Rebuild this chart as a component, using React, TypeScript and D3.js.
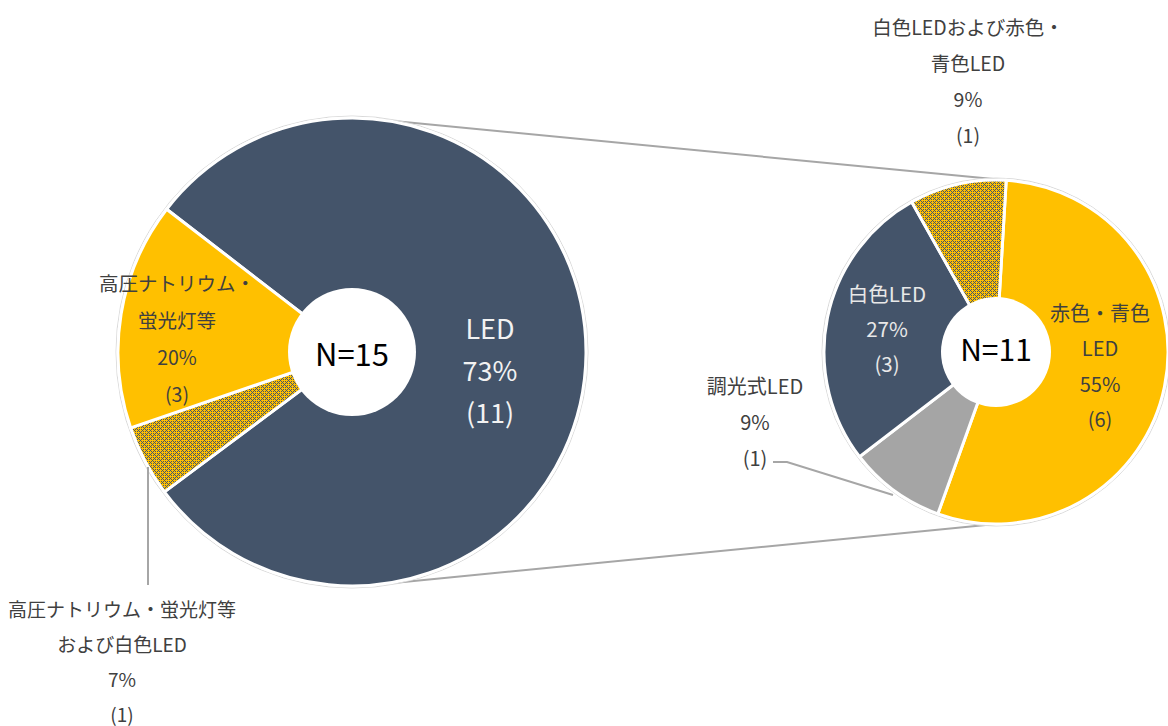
import React from 'react';
import * as d3 from 'd3';

// left pie (all lamps)
const leftNames = ['LED', '高圧ナトリウム・蛍光灯等および白色LED', '高圧ナトリウム・蛍光灯等'];
const leftCounts = [11, 1, 3];
const leftPercents = ['73%', '7%', '20%'];
// slice sizes as drawn in the picture (degrees)
const leftDrawn = [285.7, 17.8, 56.5];

// right pie (LED breakdown)
const rightNames = ['赤色・青色LED', '調光式LED', '白色LED', '白色LEDおよび赤色・青色LED'];
const rightCounts = [6, 1, 3, 1];
const rightPercents = ['55%', '9%', '27%', '9%'];

const leftTotal = 15;
const rightTotal = 11;

const NAVY = '#44546a';
const GOLD = '#ffc000';
const GREY = '#a5a5a5';
const LINE = '#a6a6a6';
const TXT = '#404040';
const FONT = '"Noto Sans CJK JP", "Noto Sans", sans-serif';

const rad = (deg: number) => (deg * Math.PI) / 180;

// label lines per slice (split where the original wraps)
const leftLabelLines = [
  [leftNames[0]],
  ['高圧ナトリウム・蛍光灯等', 'および白色LED'],
  ['高圧ナトリウム・', '蛍光灯等'],
];
const rightLabelLines = [
  ['赤色・青色', 'LED'],
  [rightNames[1]],
  [rightNames[2]],
  ['白色LEDおよび赤色・', '青色LED'],
];

function Label({ x, y, lines, color, size, gap }: any) {
  return (
    <text x={x} y={y} textAnchor="middle" fill={color} fontSize={size} fontFamily={FONT}>
      {lines.map((l: string, i: number) => (
        <tspan key={i} x={x} y={y + i * gap} dominantBaseline="central">{l}</tspan>
      ))}
    </text>
  );
}

function dotPattern() {
  const inPlus = (i: number, j: number, ci: number, cj: number) => {
    const di = Math.min(Math.abs(i - ci), 8 - Math.abs(i - ci));
    const dj = Math.min(Math.abs(j - cj), 8 - Math.abs(j - cj));
    return (di === 0 && dj <= 2) || (dj === 0 && di <= 2);
  };
  const cells = [];
  for (let i = 0; i < 8; i++) {
    for (let j = 0; j < 8; j++) {
      const plus = inPlus(i, j, 4, 4) || inPlus(i, j, 0, 0);
      if ((i + j) % 2 === 0 && !plus) {
        cells.push(<rect key={i + '-' + j} x={i} y={j} width={1} height={1} fill={NAVY} />);
      }
    }
  }
  return (
    <pattern id="dotgrid" width={8} height={8} patternUnits="userSpaceOnUse">
      <rect width={8} height={8} fill={GOLD} />
      {cells}
    </pattern>
  );
}

export default function App() {
  const W = 1168, H = 726;
  const L = { cx: 352, cy: 352, r: 234, hole: 64 };
  const R = { cx: 996, cy: 352, r: 172, hole: 55 };

  const leftStart = rad(307.6);
  const leftArcs = d3.pie<number>().sort(null)
    .startAngle(leftStart).endAngle(leftStart + Math.PI * 2)
    .value(d => d)(leftDrawn);

  const rightStart = rad(3.4);
  const rightArcs = d3.pie<number>().sort(null)
    .startAngle(rightStart).endAngle(rightStart + Math.PI * 2)
    .value(d => d)(rightCounts);

  const leftArc = d3.arc<any>().innerRadius(0).outerRadius(L.r);
  const rightArc = d3.arc<any>().innerRadius(0).outerRadius(R.r);

  const leftFill = [NAVY, 'url(#dotgrid)', GOLD];
  const rightFill = [GOLD, GREY, NAVY, 'url(#dotgrid)'];

  const onCircle = (c: any, a: number, r = c.r) => [c.cx + r * Math.sin(a), c.cy - r * Math.cos(a)];

  // connectors between the two pies
  const t0 = onCircle(L, rad(6.5));
  const t1 = onCircle(R, rightStart);
  const b0 = onCircle(L, rad(173.5));
  const b1 = onCircle(R, rad(180));

  const leftLabelPos = [
    { x: 490, y: 327, color: '#f2f2f2', size: 27, gap: 42 },
    { x: 122, y: 608, color: TXT, size: 19, gap: 35 },
    { x: 177, y: 282, color: TXT, size: 19.5, gap: 37 },
  ];
  const rightLabelPos = [
    { x: 1100, y: 312, color: TXT, size: 20, gap: 35.5 },
    { x: 755, y: 385, color: TXT, size: 20, gap: 36 },
    { x: 887, y: 293, color: '#e8e8e8', size: 20.5, gap: 35 },
    { x: 968, y: 26, color: TXT, size: 19.5, gap: 36 },
  ];

  return (
    <svg width={W} height={H} style={{ position: 'absolute', left: 0, top: 0, background: '#fff' }}>
      <defs>{dotPattern()}</defs>

      <line x1={t0[0]} y1={t0[1]} x2={t1[0]} y2={t1[1]} stroke={LINE} strokeWidth={2} />
      <line x1={b0[0]} y1={b0[1]} x2={b1[0]} y2={b1[1]} stroke={LINE} strokeWidth={2} />

      {/* left pie */}
      <circle cx={L.cx} cy={L.cy} r={L.r + 2} fill="none" stroke="#d9d9d9" strokeWidth={1} />
      <g transform={`translate(${L.cx},${L.cy})`}>
        {leftArcs.map((a, i) => (
          <path key={i} d={leftArc(a) as string} fill={leftFill[i]} stroke="#fff" strokeWidth={3} />
        ))}
        <circle r={L.hole} fill="#fff" />
        <text y={0} textAnchor="middle" dominantBaseline="central" fontSize={31} fontFamily={FONT} fill="#000">
          N={leftTotal}
        </text>
      </g>

      {/* right pie */}
      <circle cx={R.cx} cy={R.cy} r={R.r + 2} fill="none" stroke="#d9d9d9" strokeWidth={1} />
      <g transform={`translate(${R.cx},${R.cy})`}>
        {rightArcs.map((a, i) => (
          <path key={i} d={rightArc(a) as string} fill={rightFill[i]} stroke="#fff" strokeWidth={3} />
        ))}
        <circle r={R.hole} fill="#fff" />
        <text y={-4} textAnchor="middle" dominantBaseline="central" fontSize={30} fontFamily={FONT} fill="#000">
          N={rightTotal}
        </text>
      </g>

      {/* leader lines */}
      <polyline points="148,467 148,585" fill="none" stroke={LINE} strokeWidth={2} />
      <polyline points="773,462 787,462 893,495" fill="none" stroke={LINE} strokeWidth={2} />

      {leftLabelLines.map((lines, i) => (
        <Label key={'l' + i} {...leftLabelPos[i]}
          lines={[...lines, leftPercents[i], `(${leftCounts[i]})`]} />
      ))}
      {rightLabelLines.map((lines, i) => (
        <Label key={'r' + i} {...rightLabelPos[i]}
          lines={[...lines, rightPercents[i], `(${rightCounts[i]})`]} />
      ))}
    </svg>
  );
}
